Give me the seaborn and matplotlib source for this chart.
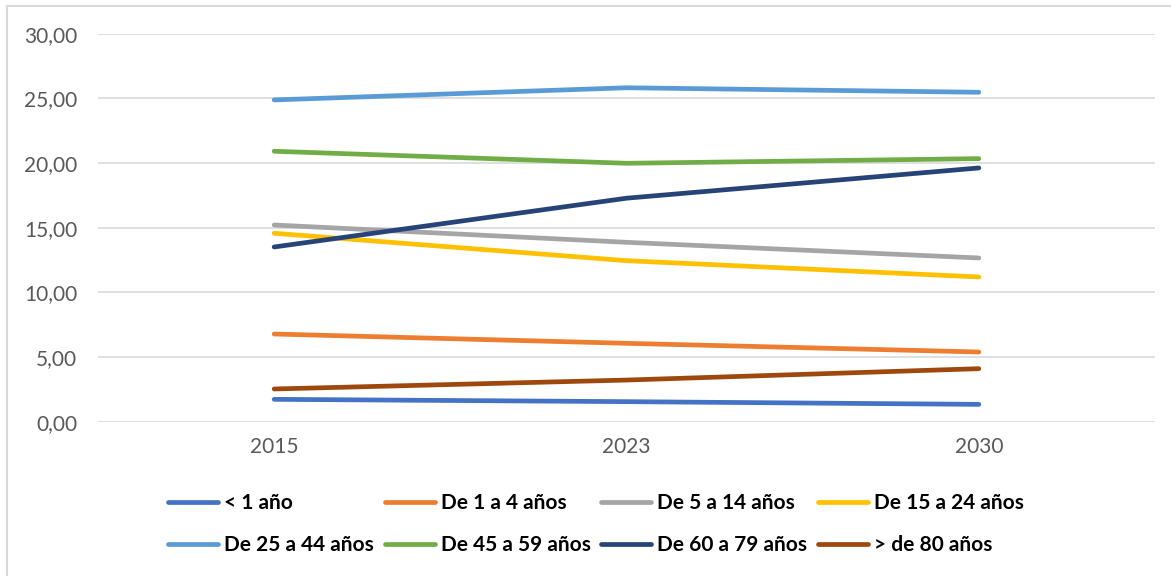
import matplotlib
matplotlib.use("Agg")
import matplotlib.pyplot as plt
from matplotlib.patches import Rectangle
from matplotlib.ticker import FuncFormatter
import seaborn as sns
import pandas as pd

# Population share by age group (%)
years = ["2015", "2023", "2030"]
groups = ["< 1 año", "De 1 a 4 años", "De 5 a 14 años", "De 15 a 24 años",
          "De 25 a 44 años", "De 45 a 59 años", "De 60 a 79 años", "> de 80 años"]
menos_1 = [1.73, 1.55, 1.34]
de_1_a_4 = [6.78, 6.06, 5.39]
de_5_a_14 = [15.21, 13.87, 12.66]
de_15_a_24 = [14.57, 12.45, 11.19]
de_25_a_44 = [24.88, 25.82, 25.47]
de_45_a_59 = [20.91, 19.98, 20.34]
de_60_a_79 = [13.51, 17.28, 19.62]
mas_80 = [2.53, 3.22, 4.10]
colors = ["#4472C4", "#ED7D31", "#A5A5A5", "#FFC000",
          "#5B9BD5", "#70AD47", "#264478", "#9E480E"]

series = [menos_1, de_1_a_4, de_5_a_14, de_15_a_24,
          de_25_a_44, de_45_a_59, de_60_a_79, mas_80]
df = pd.DataFrame(
    [(y, g, v) for g, vals in zip(groups, series) for y, v in zip(years, vals)],
    columns=["year", "group", "value"],
)

sns.set_theme(style="white")
plt.rcParams["font.family"] = ["Lato", "DejaVu Sans"]

fig = plt.figure(figsize=(11.71, 5.76), dpi=100)
ax = fig.add_axes([98 / 1171, 1 - 421.7 / 576, 1057 / 1171, 388 / 576])

sns.lineplot(data=df, x="year", y="value", hue="group", hue_order=groups,
             palette=colors, linewidth=3.4, sort=False, ax=ax,
             solid_capstyle="round", legend=True)

ax.set_xlim(-0.5, 2.5)
ax.set_ylim(0, 30)
ax.set_yticks(range(0, 31, 5))
ax.yaxis.set_major_formatter(FuncFormatter(lambda v, p: f"{v:.2f}".replace(".", ",")))
ax.grid(axis="y", color="#d9d9d9", linewidth=1.2)
ax.set_axisbelow(True)
for s in ax.spines.values():
    s.set_visible(False)
ax.tick_params(axis="both", length=0, labelsize=15, labelcolor="#595959")
ax.tick_params(axis="y", pad=15)
ax.tick_params(axis="x", pad=11)
ax.set_xlabel("")
ax.set_ylabel("")

handles, labels = ax.get_legend_handles_labels()
ax.legend_.remove()
for h in handles:
    h.set_linewidth(3.4)
    h.set_solid_capstyle("round")
# legend fills column by column; reorder so entries read across rows
order = [0, 4, 1, 5, 2, 6, 3, 7]
handles = [handles[i] for i in order]
labels = [labels[i] for i in order]
leg = fig.legend(handles, labels, loc="center", ncol=4,
                 bbox_to_anchor=(596 / 1171, 1 - 524 / 576),
                 frameon=False, handlelength=2.4, handletextpad=0.3,
                 columnspacing=0.5, labelspacing=1.05,
                 prop={"weight": "bold", "size": 15})
for t in leg.get_texts():
    t.set_color("black")

# Chart-area frame
fig.patches.append(Rectangle((7 / 1171, -0.05), 1.1, 1 - 6 / 576 + 0.05,
                             transform=fig.transFigure, fill=False,
                             edgecolor="#d9d9d9", linewidth=1.5))

fig.savefig("out.png", dpi=100)
